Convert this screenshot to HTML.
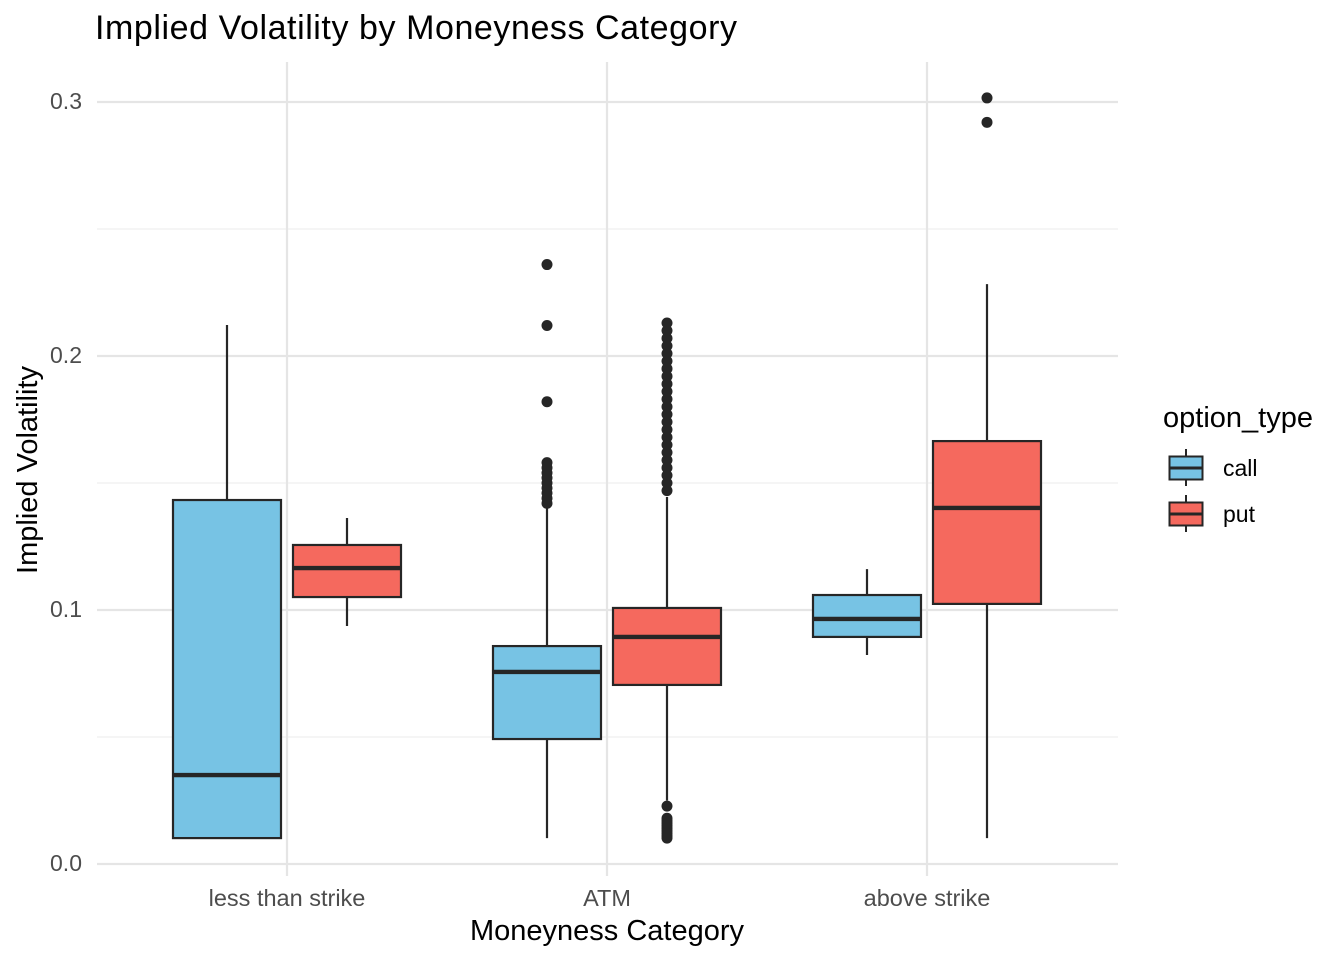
<!DOCTYPE html>
<html><head><meta charset="utf-8"><style>
body{margin:0;background:#fff;font-family:"Liberation Sans",Arial,sans-serif}
</style></head><body>
<svg id="chart" width="1344" height="960" xmlns="http://www.w3.org/2000/svg">
<text x="95" y="39" font-size="34" fill="#000" textLength="642">Implied Volatility by Moneyness Category</text>
<g id="grid"></g>
<g id="marks"></g>
<text x="607" y="940" font-size="29" text-anchor="middle" fill="#000">Moneyness Category</text>
<text transform="translate(37,470) rotate(-90)" font-size="29" text-anchor="middle" fill="#000">Implied Volatility</text>
<g>
<text x="1163" y="427" font-size="29">option_type</text>
<g>
<line x1="1186" y1="449" x2="1186" y2="486" stroke="#262626" stroke-width="2"/>
<rect x="1169.5" y="456.5" width="33" height="23" fill="#77c3e4" stroke="#262626" stroke-width="2"/>
<line x1="1169.5" y1="468" x2="1202.5" y2="468" stroke="#262626" stroke-width="3"/>
<text x="1223" y="476" font-size="23">call</text></g>
<g>
<line x1="1186" y1="495" x2="1186" y2="532" stroke="#262626" stroke-width="2"/>
<rect x="1169.5" y="502.5" width="33" height="23" fill="#f5695e" stroke="#262626" stroke-width="2"/>
<line x1="1169.5" y1="514" x2="1202.5" y2="514" stroke="#262626" stroke-width="3"/>
<text x="1223" y="522" font-size="23">put</text></g>
</g>
</svg>
<script>
const categories=["less than strike","ATM","above strike"];
const groups=["call","put"];
const yTicks=[0,0.1,0.2,0.3];
const yTickLabels=["0.0","0.1","0.2","0.3"];
const callStats=[[0.0102,0.0102,0.035,0.1433,0.2122],[0.0102,0.0492,0.0756,0.0858,0.1420],[0.0823,0.0894,0.0965,0.1059,0.1161]];
const putStats=[[0.0937,0.1051,0.1165,0.1256,0.1362],[0.025,0.0705,0.0894,0.1008,0.1445],[0.0102,0.1024,0.1402,0.1665,0.2283]];
const callOutliers=[[],[0.236,0.212,0.182,0.142,0.144,0.146,0.148,0.150,0.152,0.154,0.156,0.158],[]];
const putOutliers=[[],[0.0102,0.011,0.012,0.013,0.014,0.015,0.016,0.017,0.018,0.0228,0.147,0.150,0.153,0.156,0.159,0.162,0.165,0.168,0.171,0.174,0.177,0.180,0.183,0.186,0.189,0.192,0.195,0.198,0.201,0.204,0.207,0.210,0.213],[0.3016,0.292]];
const colors={call:"#77c3e4",put:"#f5695e"};
const NS="http://www.w3.org/2000/svg";
const y=v=>864-v*2540;
const x=i=>287+i*320;
function mk(t,a,p){const e=document.createElementNS(NS,t);for(const k in a)e.setAttribute(k,a[k]);p.appendChild(e);return e;}
const grid=document.getElementById('grid'),marks=document.getElementById('marks');
for(let v=0.05;v<0.31;v+=0.1){const g=mk('line',{x1:97,x2:1118,y1:y(v),y2:y(v),stroke:'#ebebeb','stroke-width':1.1},grid);

}
yTicks.forEach((v,i)=>{const g=mk('line',{x1:97,x2:1118,y1:y(v),y2:y(v),stroke:'#e5e5e5','stroke-width':2.2},grid);


const t=mk('text',{x:82,y:y(v)+7,'font-size':23,fill:'#4d4d4d','text-anchor':'end'},grid);t.textContent=yTickLabels[i];

});
categories.forEach((c,i)=>{const g=mk('line',{x1:x(i),x2:x(i),y1:62,y2:876,stroke:'#e5e5e5','stroke-width':2.2},grid);


const t=mk('text',{x:x(i),y:906,'font-size':23.5,fill:'#4d4d4d','text-anchor':'middle'},grid);t.textContent=c;

});
function box(i,s,out,grp,off){const cx=x(i)+off,w=108;
const g=mk('g',{},marks);


mk('line',{x1:cx,x2:cx,y1:y(s[0]),y2:y(s[4]),stroke:'#262626','stroke-width':2.2},g);
mk('rect',{x:cx-w/2,y:y(s[3]),width:w,height:y(s[1])-y(s[3]),fill:colors[grp],stroke:'#262626','stroke-width':2.2},g);
mk('line',{x1:cx-w/2,x2:cx+w/2,y1:y(s[2]),y2:y(s[2]),stroke:'#262626','stroke-width':4.4},g);
out[i].forEach(v=>{const p=mk('circle',{cx:cx,cy:y(v),r:5.5,fill:'#262626'},g);

});}
categories.forEach((c,i)=>{box(i,callStats[i],callOutliers,'call',-60);box(i,putStats[i],putOutliers,'put',60);});
</script>
</body></html>
